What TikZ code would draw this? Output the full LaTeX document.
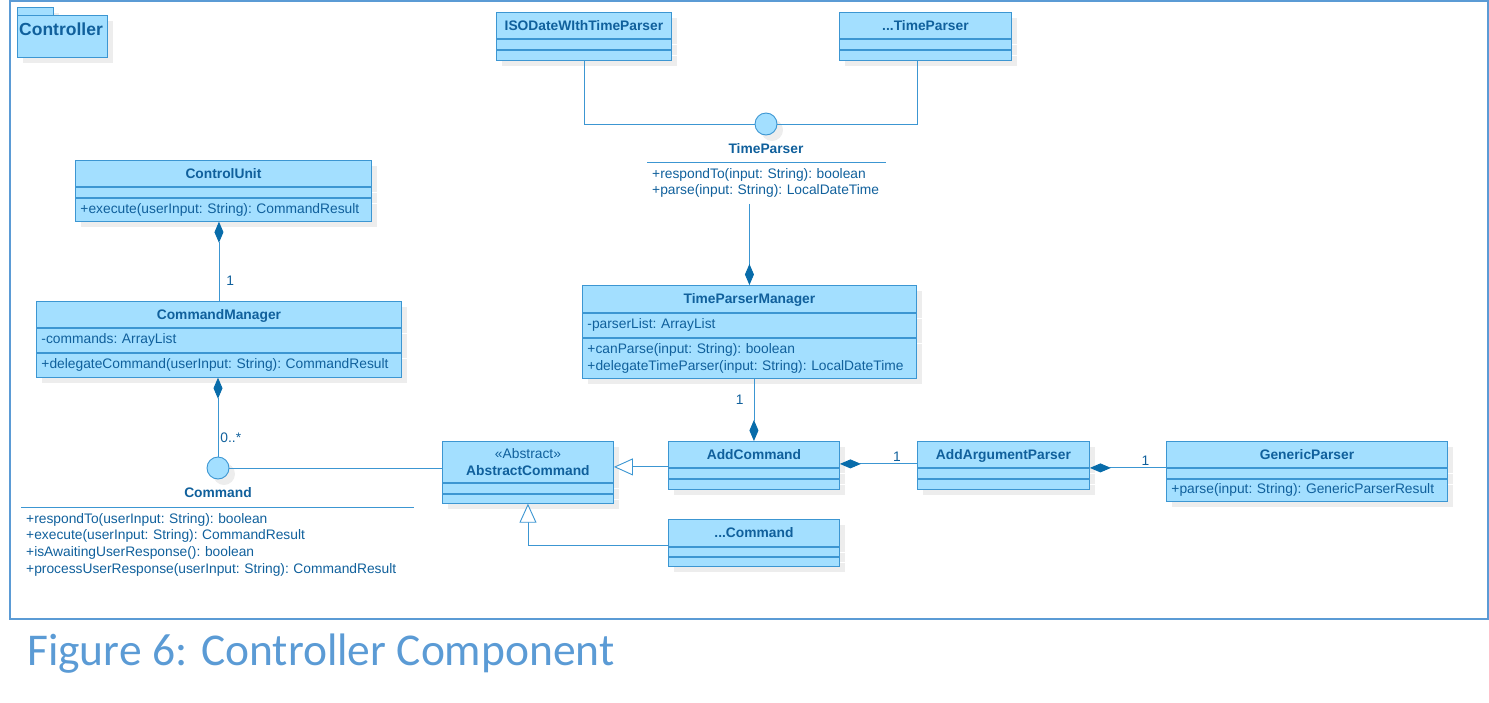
\documentclass[tikz,border=0pt]{standalone}
\usepackage{fontspec}
\setmainfont{Liberation Sans}
\newfontfamily\capfont{Carlito}
\usetikzlibrary{positioning,arrows.meta,shadows}
\definecolor{umlfill}{RGB}{163,223,255}
\definecolor{umlline}{RGB}{60,150,210}
\definecolor{umltext}{RGB}{16,96,156}
\definecolor{umldark}{RGB}{8,108,170}
\definecolor{framecol}{RGB}{91,155,213}
\newcommand{\umlfont}{\fontsize{13.8}{16.5}\selectfont\frenchspacing\hyphenpenalty=10000\relax}
\newcommand{\cmdfont}{\fontsize{13.8}{16.7}\selectfont\frenchspacing\hyphenpenalty=10000\relax}
\tikzset{
  box/.style={draw=umlline, fill=umlfill, line width=0.9pt, inner sep=0pt, text=umltext,
    drop shadow={shadow xshift=6pt, shadow yshift=-6pt, fill=black!7, opacity=1}},
  head/.style={box, anchor=north west, minimum width=#1, minimum height=26pt, text height=10pt, text depth=0pt, font=\bfseries\umlfont},
  part/.style={box, text width=#1, inner xsep=5pt, align=left, minimum height=10pt, font=\umlfont},
  ball/.style={box, circle, minimum size=22pt},
  ops/.style={anchor=north west, text=umltext, font=\umlfont, align=left, inner xsep=5pt, inner ysep=6pt},
  mult/.style={text=umltext, font=\umlfont, inner sep=2pt},
  link/.style={draw=umlline, line width=0.9pt},
  comp/.style={link, -{Diamond[length=21pt, width=9pt, color=umldark, fill=umldark]}},
  gen/.style={link, -{Triangle[open, length=19pt, width=17pt, fill=white]}},
}
\begin{document}
\begin{tikzpicture}[x=1pt, y=-1pt]
      \useasboundingbox (0,0) rectangle (1489,702);
      \draw[framecol, line width=2pt] (10,1) rectangle (1488,619);
      % package
      \node[box, anchor=north west, minimum width=36pt, minimum height=8pt] (pkgtab) at (17,7) {};
      \node[box, anchor=north west, minimum width=90pt, minimum height=42pt] (pkg) at (17,15) {};
      \node[anchor=west, inner sep=0pt, text=umltext, font=\bfseries\fontsize{17.5}{20}\selectfont] (pkgname) at (19,29) {Controller};
      % time parsers
      \node[head=175pt] (isoh) at (496,12) {ISODateWIthTimeParser};
      \node[part=165pt, below=0pt of isoh] (isoa) {};
      \node[part=165pt, below=0pt of isoa] (isoo) {};
      \node[head=172pt] (dtph) at (839,12) {...TimeParser};
      \node[part=162pt, below=0pt of dtph] (dtpa) {};
      \node[part=162pt, below=0pt of dtpa] (dtpo) {};
      \node[ball] (tpc) at (766,124) {};
      \node[mult, font=\bfseries\umlfont] (tpname) at (766,149) {TimeParser};
      \node[ops, text width=229pt] (tpops) at (647,162) {+respondTo(input: String): boolean\\+parse(input: String): LocalDateTime};
      \node[head=334pt, minimum height=27pt] (tpmh) at (582,285) {TimeParserManager};
      \node[part=324pt, minimum height=24pt, below=0pt of tpmh] (tpma) {-parserList: ArrayList};
      \node[part=324pt, minimum height=40pt, below=0pt of tpma] (tpmo) {+canParse(input: String): boolean\\+delegateTimeParser(input: String): LocalDateTime};
      % control
      \node[head=296pt] (cuh) at (75,160) {ControlUnit};
      \node[part=286pt, below=0pt of cuh] (cua) {};
      \node[part=286pt, minimum height=23pt, below=0pt of cua] (cuo) {+execute(userInput: String): CommandResult};
      \node[head=365pt] (cmh) at (36,301) {CommandManager};
      \node[part=355pt, minimum height=24pt, below=0pt of cmh] (cma) {-commands: ArrayList};
      \node[part=355pt, minimum height=24pt, below=0pt of cma] (cmo) {+delegateCommand(userInput: String): CommandResult};
      \node[ball] (cmdc) at (218,468) {};
      \node[mult, font=\bfseries\umlfont] (cmdname) at (218,493) {Command};
      \node[ops, text width=383pt, font=\cmdfont] (cmdops) at (21,507) {+respondTo(userInput: String): boolean\\+execute(userInput: String): CommandResult\\+isAwaitingUserResponse(): boolean\\+processUserResponse(userInput: String): CommandResult};
      % commands
      \node[head=171pt, minimum height=41pt, text height=26.5pt, align=center] (ach) at (442,441) {\mdseries«Abstract»\\AbstractCommand};
      \node[part=161pt, below=0pt of ach] (aca) {};
      \node[part=161pt, minimum height=9pt, below=0pt of aca] (aco) {};
      \node[head=171pt] (addh) at (668,441) {AddCommand};
      \node[part=161pt, below=0pt of addh] (adda) {};
      \node[part=161pt, below=0pt of adda] (addo) {};
      \node[head=171pt, minimum height=27pt] (och) at (668,519) {...Command};
      \node[part=161pt, minimum height=9pt, below=0pt of och] (oca) {};
      \node[part=161pt, minimum height=9pt, below=0pt of oca] (oco) {};
      \node[head=172pt] (argh) at (917,441) {AddArgumentParser};
      \node[part=162pt, below=0pt of argh] (arga) {};
      \node[part=162pt, below=0pt of arga] (argo) {};
      \node[head=281pt] (gph) at (1166,441) {GenericParser};
      \node[part=271pt, below=0pt of gph] (gpa) {};
      \node[part=271pt, minimum height=22pt, below=0pt of gpa] (gpo) {+parse(input: String): GenericParserResult};
      \node[anchor=base west, inner sep=0pt, text=framecol, font=\capfont\fontsize{45.5}{54}\selectfont] (caption) at (27,665) {Figure 6: Controller Component};
      \begin{scope}
        \draw[link] (tpops.north west) -- (tpops.north east);
        \draw[link] (cmdops.north west) -- (cmdops.north east);
        \draw[link] (isoo.south) |- (tpc.west);
        \draw[link] ([xshift=-8pt]dtpo.south) |- (tpc.east);
        \draw[comp] (tpops.south -| tpmh.north) -- (tpmh.north);
        \draw[comp] (cmh.north) -- (cmh.north |- cuo.south) node[mult, pos=0.25, right=5pt] {1};
        \draw[comp] (cmdc.north) -- (cmdc.north |- cmo.south) node[mult, pos=0.24, right] {0..*};
        \draw[link] (cmdc.east) -- (cmdc.east -| ach.west);
        \draw[comp] (tpmo.south -| addh.north) -- (addh.north) node[mult, pos=0.34, left=8pt] {1};
        \draw[comp] ([yshift=4pt]argh.south west) -- ([yshift=4pt]addh.south east) node[mult, pos=0.26, above] {1};
        \draw[comp] (gph.south west) -- (argh.south east) node[mult, pos=0.27, above] {1};
        \draw[gen] ([yshift=1pt]addh.south west) -- ([yshift=1pt]addh.south west -| ach.east);
        \draw[gen] ([yshift=1pt]och.south west) -| (aco.south);
      \end{scope}
    \end{tikzpicture}
\end{document}
